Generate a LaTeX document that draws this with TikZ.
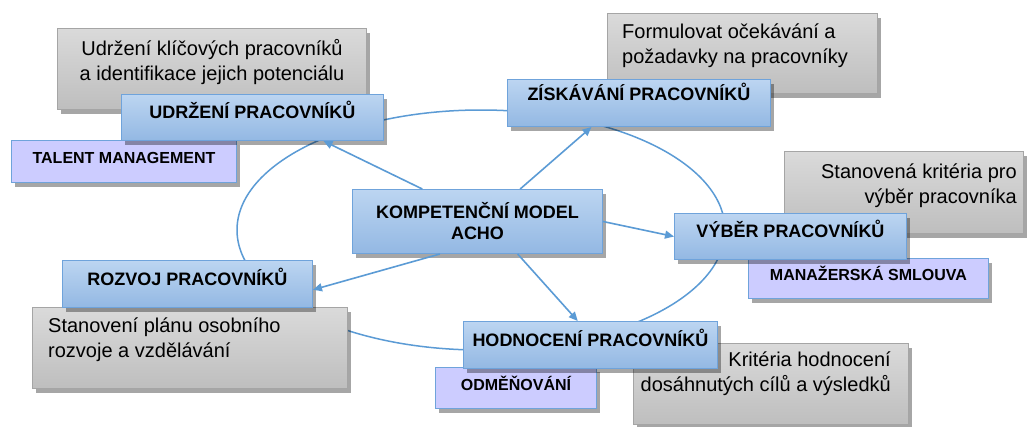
\documentclass[tikz,border=0pt]{standalone}
\usepackage{fontspec}
\setmainfont{Liberation Sans}
\usetikzlibrary{shadows,arrows.meta,calc}

\definecolor{modraHore}{HTML}{BCD5F1}
\definecolor{modraDole}{HTML}{93B8E3}
\definecolor{modraCara}{HTML}{6FA3DB}
\definecolor{sedaHore}{HTML}{DADADA}
\definecolor{sedaDole}{HTML}{BEBEBE}
\definecolor{sedaCara}{HTML}{A5A5A5}
\definecolor{fialova}{HTML}{CCCCFF}
\definecolor{sipka}{HTML}{5B9BD5}

\tikzset{
  krabice/.style={anchor=north west, inner sep=0pt, line width=1pt,
    drop shadow={shadow xshift=3pt, shadow yshift=-4pt, opacity=.35, fill=black}},
  graybox/.style={krabice, draw=sedaCara, top color=sedaHore, bottom color=sedaDole},
  bluebox/.style={krabice, draw=modraCara, top color=modraHore, bottom color=modraDole,
    font=\fontsize{18}{21}\selectfont\bfseries},
  stage/.style={bluebox, text height=13pt, text depth=11pt},
  tag/.style={krabice, draw=modraCara, fill=fialova,
    font=\fontsize{16}{19}\selectfont\bfseries, text height=12pt, text depth=7.5pt},
  infotext/.style={inner sep=0pt, font=\fontsize{20}{25}\selectfont},
  ring/.style={draw=sipka, line width=1.5pt},
  arr/.style={draw=sipka, line width=1.6pt, -{Triangle[length=9pt,width=8pt]}}
}

\begin{document}
\begin{tikzpicture}[x=1pt,y=-1pt]
  \fill[white] (0,0) rectangle (1027,426);
  \useasboundingbox (0,0) rectangle (1027,426);

  % kruh kolem modelu
  \draw[ring] (481,230) ellipse [x radius=244pt, y radius=120pt];

  % sede popisy
  \node[graybox, minimum width=309pt, minimum height=81pt] (udrzenibox) at (57,28) {};
  \node[infotext, align=center] at ([yshift=7pt]udrzenibox.center)
    {Udržení klíčových pracovníků\\a identifikace jejich potenciálu};

  \node[graybox, minimum width=270pt, minimum height=80pt] (ziskavanibox) at (607,13) {};
  \node[infotext, align=left, anchor=west] at ([xshift=15pt, yshift=7.5pt]ziskavanibox.west)
    {Formulovat očekávání a\\požadavky na pracovníky};

  \node[graybox, minimum width=239pt, minimum height=82pt] (vyberbox) at (784,151) {};
  \node[infotext, align=right, anchor=east] at ([xshift=-7pt, yshift=7pt]vyberbox.east)
    {Stanovená kritéria pro\\výběr pracovníka};

  \node[graybox, minimum width=315pt, minimum height=81pt] (rozvojbox) at (32,307) {};
  \node[infotext, align=left, anchor=west] at ([xshift=16pt, yshift=8pt]rozvojbox.west)
    {Stanovení plánu osobního\\rozvoje a vzdělávání};

  \node[graybox, minimum width=275pt, minimum height=81pt] (hodnocenibox) at (633,343) {};
  \node[infotext, align=right, anchor=east] at ([xshift=-18pt, yshift=10pt]hodnocenibox.east)
    {Kritéria hodnocení\\dosáhnutých cílů a výsledků};

  % fialove stitky
  \node[tag, minimum width=225pt, minimum height=42pt] (talent) at (11,140) {TALENT MANAGEMENT};
  \node[tag, minimum width=240pt, minimum height=40pt] (smlouva) at (748,258) {MANAŽERSKÁ SMLOUVA};
  \node[tag, minimum width=161pt, minimum height=41pt] (odmenovani) at (435,367) {ODMĚŇOVÁNÍ};

  % modre faze
  \node[stage, minimum width=262pt, minimum height=46pt] (udrzeni) at (121,94) {UDRŽENÍ PRACOVNÍKŮ};
  \node[stage, text depth=19pt, minimum width=263pt, minimum height=47pt] (ziskavani) at (507,79) {ZÍSKÁVÁNÍ PRACOVNÍKŮ};
  \node[bluebox, minimum width=250pt, minimum height=64pt, align=center] (model) at (352,189)
    {KOMPETENČNÍ MODEL\\ACHO};
  \node[stage, minimum width=232pt, minimum height=46pt] (vyber) at (674,213) {VÝBĚR PRACOVNÍKŮ};
  \node[stage, minimum width=250pt, minimum height=47pt] (rozvoj) at (62,260) {ROZVOJ PRACOVNÍKŮ};
  \node[stage, minimum width=254pt, minimum height=47pt] (hodnoceni) at (463,321) {HODNOCENÍ PRACOVNÍKŮ};

  % sipky z modelu
  \draw[arr] ($(model.north west)!0.28!(model.north east)$) -- ($(udrzeni.south west)!0.77!(udrzeni.south east)$);
  \draw[arr] ($(model.north west)!0.67!(model.north east)$) -- ($(ziskavani.south west)!0.32!(ziskavani.south east)$);
  \draw[arr] (model.east) -- (vyber.west);
  \draw[arr] ($(model.south west)!0.35!(model.south east)$) -- ($(rozvoj.north east)!0.62!(rozvoj.south east)$);
  \draw[arr] ($(model.south west)!0.66!(model.south east)$) -- ($(hodnoceni.north west)!0.45!(hodnoceni.north east)$);
\end{tikzpicture}
\end{document}
